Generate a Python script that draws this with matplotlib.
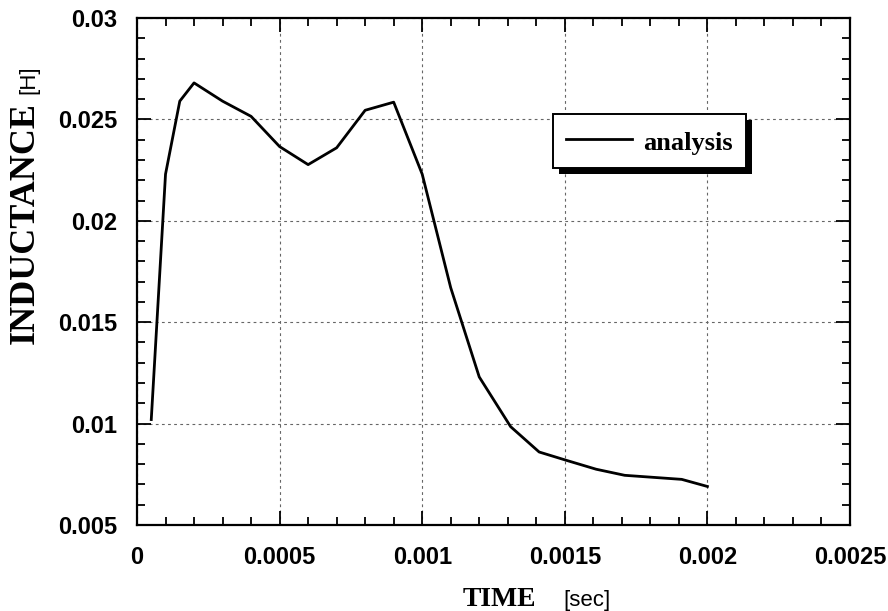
import matplotlib
matplotlib.use("Agg")
import matplotlib.pyplot as plt
from matplotlib.patches import Rectangle
from matplotlib.ticker import MultipleLocator
from matplotlib.font_manager import FontProperties

# data
time_sec = [0.00005, 0.0001, 0.00015, 0.0002, 0.0003, 0.0004, 0.0005, 0.0006,
            0.0007, 0.0008, 0.0009, 0.001, 0.0011, 0.0012, 0.00131, 0.00141,
            0.00151, 0.00161, 0.00171, 0.00181, 0.00191, 0.002]
inductance = [0.0102, 0.0223, 0.0259, 0.0268, 0.0259, 0.02515, 0.02366, 0.02277,
              0.0236, 0.02545, 0.02585, 0.0223, 0.0167, 0.0123, 0.00985, 0.0086,
              0.00817, 0.00775, 0.00745, 0.00735, 0.00725, 0.0069]
xticks = [0, 0.0005, 0.001, 0.0015, 0.002, 0.0025]
xtick_labels = ["0", "0.0005", "0.001", "0.0015", "0.002", "0.0025"]
yticks = [0.005, 0.01, 0.015, 0.02, 0.025, 0.03]
ytick_labels = ["0.005", "0.01", "0.015", "0.02", "0.025", "0.03"]

W, H = 888, 611
fig = plt.figure(figsize=(W / 100, H / 100), dpi=100)
ax = fig.add_axes([137 / W, 1 - 525 / H, (850 - 137) / W, (525 - 18) / H])

ax.plot(time_sec, inductance, color="black", lw=2.0, label="analysis")

ax.set_xlim(0, 0.0025)
ax.set_ylim(0.005, 0.03)
ax.set_xticks(xticks)
ax.set_xticklabels(xtick_labels)
ax.set_yticks(yticks)
ax.set_yticklabels(ytick_labels)
ax.xaxis.set_minor_locator(MultipleLocator(0.0001))
ax.yaxis.set_minor_locator(MultipleLocator(0.001))

tick_fp = FontProperties(family="Liberation Sans", weight="bold", size=17)
for lab in ax.get_xticklabels() + ax.get_yticklabels():
    lab.set_fontproperties(tick_fp)

ax.tick_params(which="both", direction="in", top=True, right=True, color="black")
ax.tick_params(which="major", length=10, width=1.3)
ax.tick_params(which="minor", length=5.5, width=1.3)
ax.tick_params(axis="x", which="major", pad=15)
ax.tick_params(axis="y", which="major", pad=14)
for s in ax.spines.values():
    s.set_linewidth(1.6)

ax.grid(True, which="major", color="#666666", linestyle=(0, (2.5, 3)), lw=0.8)

# axis labels: bold serif word + plain sans unit
fig.text(463 / W, 1 - 606 / H, "TIME", family="Liberation Serif", weight="bold",
         size=20, ha="left", va="baseline")
fig.text(563 / W, 1 - 606 / H, "[sec]", family="Liberation Sans", size=16,
         ha="left", va="baseline")
fig.text(34 / W, 1 - 344 / H, "INDUCTANCE", family="Liberation Serif",
         weight="bold", size=26, rotation=90, rotation_mode="anchor",
         ha="left", va="baseline")
fig.text(34 / W, 1 - 94 / H, "[H]", family="Liberation Sans", size=16,
         rotation=90, rotation_mode="anchor", ha="left", va="baseline")

leg = ax.legend(loc="upper left", bbox_to_anchor=(553 / W, 1 - 114 / H),
                bbox_transform=fig.transFigure, borderaxespad=0, fancybox=False,
                framealpha=1, edgecolor="black", handlelength=2.5,
                handleheight=1.25, handletextpad=0.4, borderpad=0.5,
                prop=dict(family="Liberation Serif", weight="bold", size=19))
leg.get_frame().set_linewidth(1.4)
leg.set_zorder(10)

fig.canvas.draw()
bb = leg.get_window_extent()
shadow = Rectangle((bb.x0 + 6, bb.y0 - 6), bb.width, bb.height, transform=None,
                   facecolor="black", edgecolor="none", zorder=9)
ax.add_artist(shadow)
shadow.set_clip_on(False)

fig.savefig("out.png", dpi=100)
